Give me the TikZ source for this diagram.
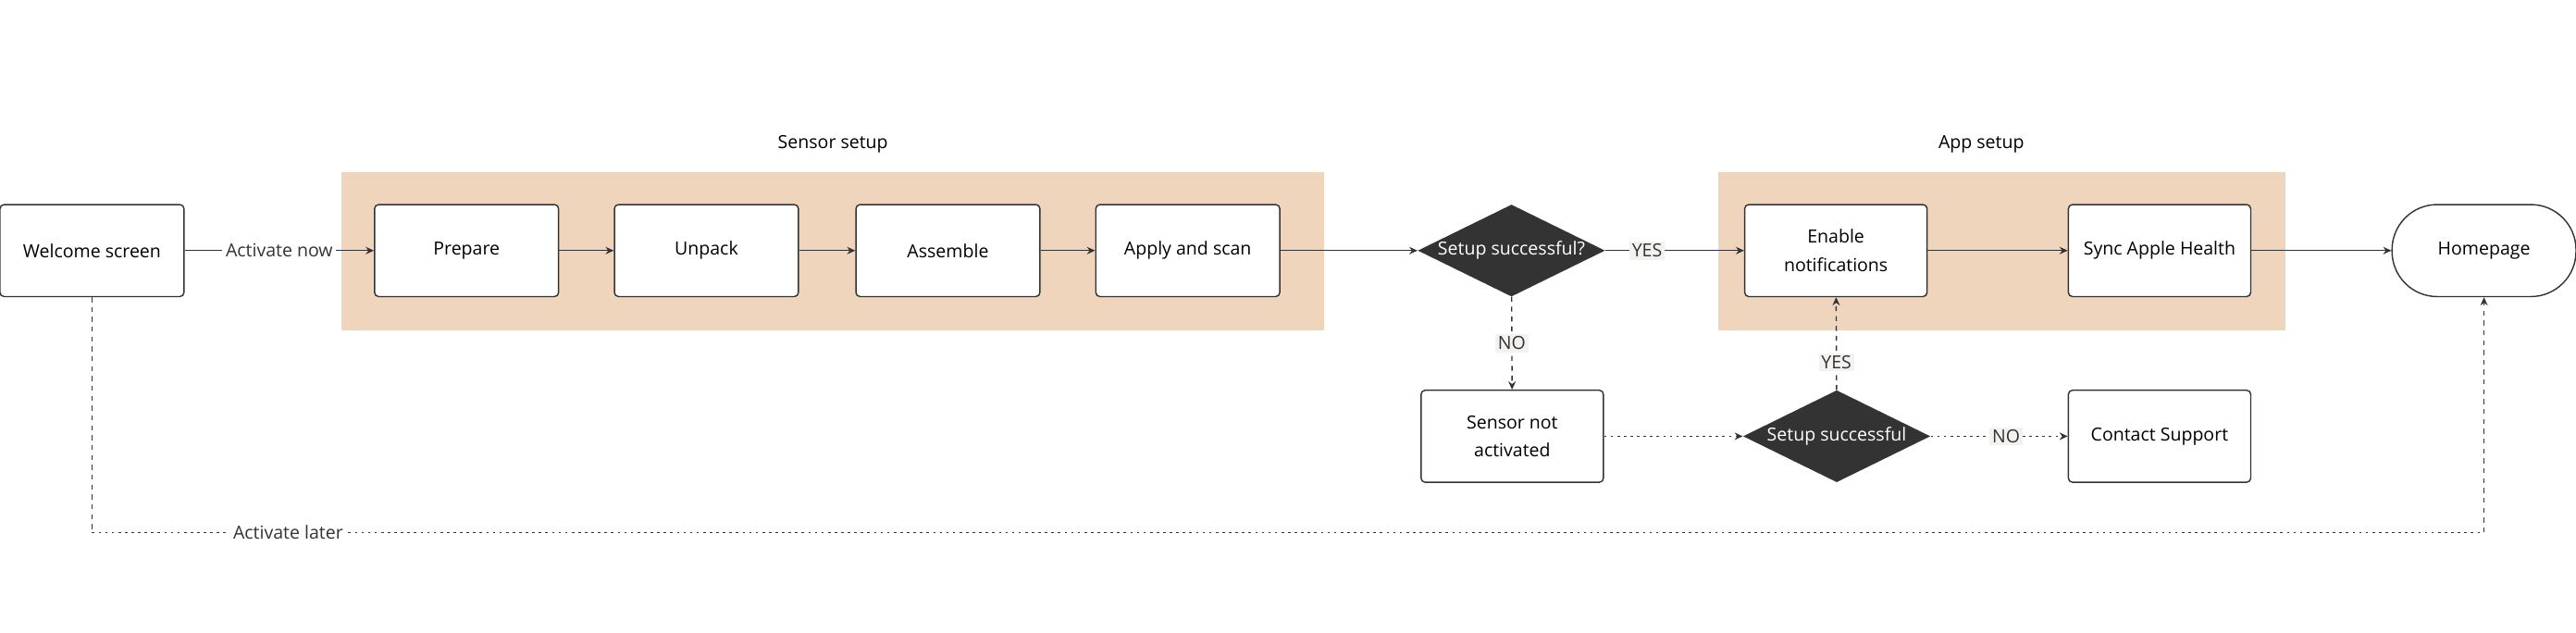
\documentclass[tikz,border=0pt]{standalone}
\usepackage{fontspec}
\setmainfont{Open Sans}
\usetikzlibrary{shapes.geometric,arrows.meta}
\definecolor{band}{HTML}{F0D5BD}
\definecolor{dark}{HTML}{333333}
\definecolor{lblbg}{HTML}{F3F2F0}
\begin{document}
\begin{tikzpicture}[x=1pt,y=-1pt,
  box/.style={draw=dark,line width=0.8pt,fill=white,rounded corners=2.5pt,minimum width=112pt,minimum height=56pt,align=center,font=\fontsize{11}{17}\selectfont},
  dec/.style={diamond,fill=dark,text=white,minimum width=114pt,minimum height=56pt,aspect=2,inner sep=0pt,font=\fontsize{11}{13}\selectfont},
  conn/.style={draw=dark,line width=0.8pt,-{Stealth[length=5pt,width=4.5pt]}},
  dsh/.style={conn,dash pattern=on 3pt off 3pt},
  dot/.style={conn,dash pattern=on 1.5pt off 2.5pt},
  lbl/.style={fill=lblbg,inner sep=1.5pt,font=\fontsize{11}{13}\selectfont,text=dark},
  ttl/.style={font=\fontsize{11}{13}\selectfont}]
\useasboundingbox (0,0) rectangle (1568,385);
\fill[band] (208,105) rectangle (806,201);
\fill[band] (1046,105) rectangle (1391,201);
\node[ttl] (t1) at (507,88) {Sensor setup};
\node[ttl] (t2) at (1206,88) {App setup};
\node[box] (w) at (56,152.5) {Welcome screen};
\node[box] (p) at (284,152.5) {Prepare};
\node[box] (u) at (430,152.5) {Unpack};
\node[box] (a) at (577,152.5) {Assemble};
\node[box] (s) at (723,152.5) {Apply and scan};
\node[dec] (d1) at (920,152.5) {Setup successful?};
\node[box,minimum width=111pt] (e) at (1117.5,152.5) {Enable\\notifications};
\node[box,minimum width=111pt] (h) at (1314.5,152.5) {Sync Apple Health};
\node[box,rounded corners=27.5pt] (hp) at (1512,152.5) {Homepage};
\node[box,minimum width=111pt] (n) at (920.5,265.5) {Sensor not\\activated};
\node[dec] (d2) at (1118,265.5) {Setup successful};
\node[box,minimum width=111pt] (c) at (1314.5,265.5) {Contact Support};
\coordinate (l1) at (56,324);
\coordinate (l2) at (1512,324);
\draw[conn] (w) -- node[fill=white,inner sep=2pt,font=\fontsize{11}{13}\selectfont,text=dark]{Activate now} (p);
\draw[conn] (p) -- (u);
\draw[conn] (u) -- (a);
\draw[conn] (a) -- (s);
\draw[conn] (s) -- (d1);
\draw[conn] (d1) -- node[lbl,pos=0.3]{YES} (e);
\draw[conn] (e) -- (h);
\draw[conn] (h) -- (hp);
\draw[dsh] (d1) -- node[lbl,pos=0.5]{NO} (n);
\draw[dot] (n) -- (d2);
\draw[dsh] (d2) -- node[lbl,pos=0.3]{YES} (e);
\draw[dot] (d2) -- node[lbl,pos=0.55]{NO} (c);
\draw[draw=dark,line width=0.8pt,dash pattern=on 3pt off 3pt] (w.south) -- (l1);
\draw[draw=dark,line width=0.8pt,dash pattern=on 1.5pt off 2.5pt] (l1) -- node[fill=white,inner sep=2pt,pos=0.082,font=\fontsize{11}{13}\selectfont,text=dark]{Activate later} (l2);
\draw[dsh] (l2) -- (hp.south);
\end{tikzpicture}
\end{document}
